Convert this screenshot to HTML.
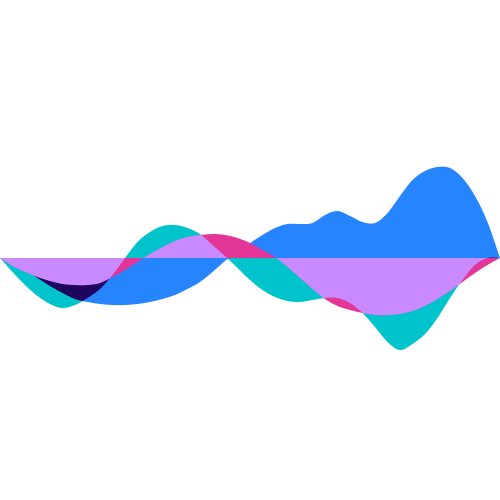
<!DOCTYPE html>
<html><head><meta charset="utf-8">
<style>html,body{margin:0;padding:0;background:#fff;width:500px;height:500px;overflow:hidden}svg{display:block}</style>
</head><body>
<svg id="chart" width="500" height="500">
  <defs><clipPath id="tealClip"><path id="tealClipPath"/></clipPath></defs>
  <g id="plot"></g>
</svg>
<script>
const xIndex = [0,1,2,3,4,5,6,7,8,9,10,11,12,13,14,15,16,17,18,19,20,21,22,23,24,25,26,27,28,29,30,31,32,33,34,35,36,37,38,39,40];
const tealValues = [0,-14,-27,-38,-46,-50,-47,-40,-31,-17,0,16,26,32,33,30,24,13,2,-10,-22,-32,-39,-43,-44,-42,-40,-40,-45,-55,-69,-84,-92,-86,-76,-60,-40,-22,-7,0,0];
const blueValues = [0,-6,-12,-20,-28,-35,-41,-44,-46,-47,-47,-46,-44,-41,-37,-31,-24,-14,-3,7,15,23,30,34,34,35,43,47,42,36,35,45,62,78,87,91,90,80,62,36,0];
const purpleValues = [0,-8,-14,-19,-23,-26,-27,-27,-25,-19,-12,-4,4,11,17,21,23,24,23,20,15,8,1,-9,-20,-31,-41,-48,-52,-55,-57,-57,-56,-53,-48,-41,-33,-24,-15,-7,0];

const W=500, baseY=258;
function xScale(i){ return i*(W/(xIndex.length-1)); }
function yScale(v){ return baseY - v; }

function areaPath(vals){
  const pts = xIndex.map((i,k)=>[xScale(i), yScale(vals[k])]);
  let d = "M"+pts[0][0]+","+baseY+" L"+pts[0][0]+","+pts[0][1];
  for(let k=0;k<pts.length-1;k++){
    const p0=pts[Math.max(0,k-1)], p1=pts[k], p2=pts[k+1], p3=pts[Math.min(pts.length-1,k+2)];
    const c1=[p1[0]+(p2[0]-p0[0])/6, p1[1]+(p2[1]-p0[1])/6];
    const c2=[p2[0]-(p3[0]-p1[0])/6, p2[1]-(p3[1]-p1[1])/6];
    d+=" C"+c1[0]+","+c1[1]+" "+c2[0]+","+c2[1]+" "+p2[0]+","+p2[1];
  }
  d+=" L"+pts[pts.length-1][0]+","+baseY+" Z";
  return d;
}
const NS="http://www.w3.org/2000/svg";
const g=document.getElementById('plot');
document.getElementById('tealClipPath').setAttribute('d', areaPath(tealValues));
function add(vals, color, name, clip){
  const p=document.createElementNS(NS,'path');
  p.setAttribute('d', areaPath(vals));
  p.setAttribute('fill', color);
  if(clip) p.setAttribute('clip-path','url(#tealClip)');
  
  
  g.appendChild(p);
}
add(tealValues,'#00c4cc','teal-series-area',false);
add(blueValues,'#2684ff','blue-series-area',false);
add(blueValues,'#1e065e','blue-teal-overlap',true);
add(purpleValues,'#e23597','purple-series-area',false);
add(purpleValues,'#c98aff','purple-teal-overlap',true);
</script>
</body></html>
